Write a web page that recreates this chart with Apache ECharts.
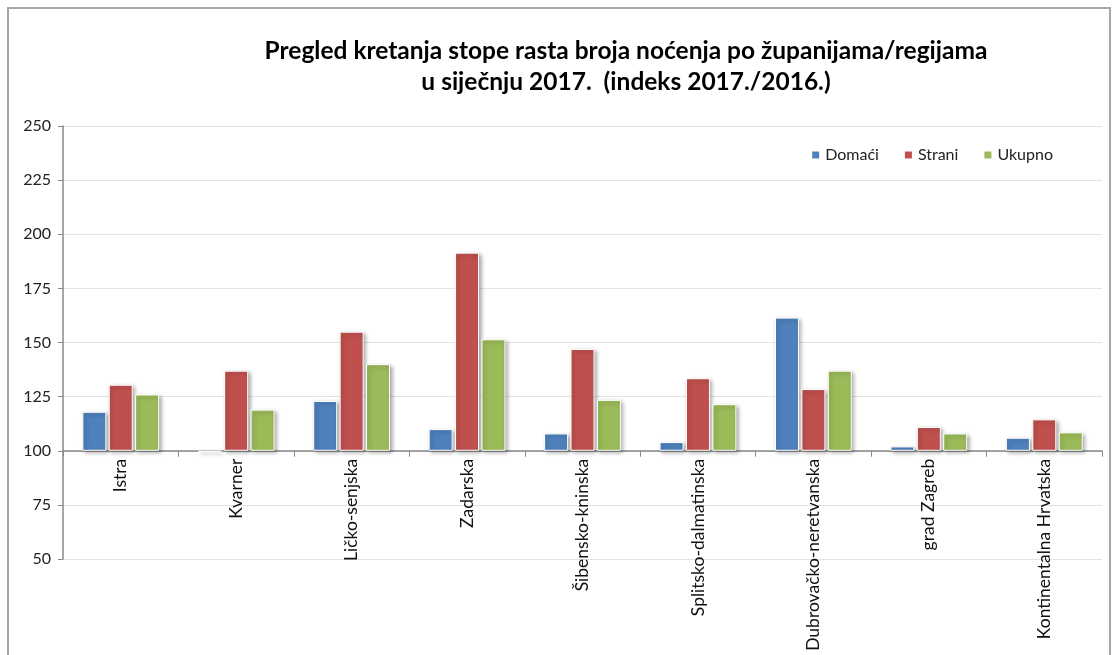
<!DOCTYPE html>
<html>
<head>
<meta charset="utf-8">
<script src="https://cdn.jsdelivr.net/npm/echarts@6/dist/echarts.min.js"></script>
<style>
  html, body { margin: 0; padding: 0; background: #fff; overflow: hidden; }
  #frame { position: absolute; left: 7px; top: 7px; width: 1104px; height: 700px; border: 2px solid #a6a6a6; box-sizing: border-box; }
  #chart { position: absolute; left: 0; top: 0; width: 1116px; height: 655px; }
</style>
</head>
<body>
<div id="frame"></div>
<div id="chart"></div>
<script>
// indeks 2017./2016. po županijama
const categories = ["Istra", "Kvarner", "Ličko-senjska", "Zadarska", "Šibensko-kninska",
  "Splitsko-dalmatinska", "Dubrovačko-neretvanska", "grad Zagreb", "Kontinentalna Hrvatska"];
const domaci = [118, 99.5, 123, 110, 108, 104, 161.5, 102, 106];
const strani = [130.5, 137, 155, 191.5, 147, 133.5, 128.5, 111, 114.5];
const ukupno = [126, 119, 140, 151.5, 123.5, 121.5, 137, 108, 108.5];
const yTicks = [50, 75, 100, 125, 150, 175, 200, 225, 250];

const BASE = 100; // bars grow from index 100
const font = "Lato, 'Open Sans', sans-serif";

const gridTop = 126, gridBottom = 96, H = 655;
const yMin = yTicks[0], yMax = yTicks[yTicks.length - 1];
// move the category axis up to the 100 line
const axisShift = (H - gridTop - gridBottom) * (BASE - yMin) / (yMax - yMin);

const chart = echarts.init(document.getElementById("chart"));

const barSeries = (name, values, color) => ({
  name: name,
  type: "bar",
  barWidth: 24,
  barGap: "10%",
  data: values.map((v) => +(v - BASE).toFixed(2)),
  itemStyle: {
    color: color,
    borderColor: "#fff",
    borderWidth: 1,
    shadowColor: "rgba(0,0,0,0.35)",
    shadowBlur: 4,
    shadowOffsetX: 2,
    shadowOffsetY: 2,
  },
});

chart.setOption({
  animation: false,
  textStyle: { fontFamily: font },
  title: {
    text: "Pregled kretanja stope rasta broja noćenja po županijama/regijama\nu siječnju 2017.  (indeks 2017./2016.)",
    left: 621,
    top: 31,
    textAlign: "center",
    textStyle: { fontFamily: font, fontSize: 24.5, fontWeight: "bold", color: "#000", lineHeight: 31 },
  },
  legend: {
    right: 58,
    top: 142,
    itemWidth: 9,
    itemHeight: 9,
    itemGap: 24,
    icon: "rect",
    textStyle: { fontFamily: font, fontSize: 16, color: "#222" },
    data: ["Domaći", "Strani", "Ukupno"],
  },
  grid: { left: 63, right: 14, top: gridTop, bottom: gridBottom, containLabel: false, outerBoundsMode: "none" },
  xAxis: {
    type: "category",
    data: categories,
    offset: -axisShift,
    axisLine: { onZero: false, lineStyle: { color: "#888", width: 1.5 } },
    axisTick: { show: true, length: 6, lineStyle: { color: "#888" } },
    axisLabel: { rotate: 90, fontSize: 17.5, color: "#111", margin: 8, interval: 0 },
  },
  yAxis: {
    type: "value",
    min: yMin - BASE,
    max: yMax - BASE,
    interval: 25,
    axisLine: { show: true, lineStyle: { color: "#888", width: 1.5 } },
    axisTick: { show: true, length: 5, lineStyle: { color: "#888" } },
    axisLabel: { fontSize: 16, color: "#222", margin: 12, formatter: (v) => String(v + BASE) },
    splitLine: { lineStyle: { color: "#e3e3e3" } },
  },
  series: [
    barSeries("Domaći", domaci, "#4F81BD"),
    barSeries("Strani", strani, "#C0504D"),
    barSeries("Ukupno", ukupno, "#9BBB59"),
  ],
});

window.addEventListener("resize", () => chart.resize());
</script>
</body>
</html>
